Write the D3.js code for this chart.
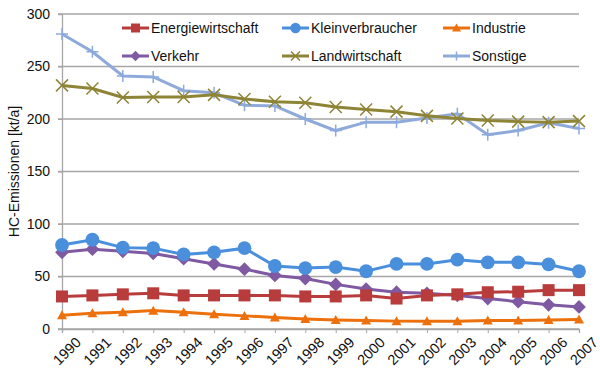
<!DOCTYPE html>
<html>
<head>
<meta charset="utf-8">
<script src="https://cdn.jsdelivr.net/npm/d3@7"></script>
<style>
  body { margin: 0; background: #fff; }
  svg { font-family: "Liberation Sans", Arial, sans-serif; }
</style>
</head>
<body>
<div id="chart"></div>
<script>
// years on the x axis
var years = [1990, 1991, 1992, 1993, 1994, 1995, 1996, 1997, 1998, 1999,
             2000, 2001, 2002, 2003, 2004, 2005, 2006, 2007];

// HC emissions, kt/a
var energiewirtschaft = [31, 32, 33, 34, 32, 32, 32, 32, 31, 31, 32, 29, 32, 33, 35, 35.5, 37, 37];
var kleinverbraucher  = [80, 85, 77.5, 77, 71, 73, 77, 60, 58, 59, 55, 62, 62, 66, 63.5, 63.5, 61.5, 55];
var industrie         = [13, 15, 16, 17.5, 16, 14, 12.5, 11, 9.5, 8.5, 8, 7.5, 7.5, 7.5, 8, 8, 8.5, 9];
var verkehr           = [73, 76, 74, 72, 67, 62, 57, 51, 48, 42.5, 38, 35, 34, 32, 29, 26, 23, 21];
var landwirtschaft    = [232, 229, 220.5, 221, 221, 223, 219, 216.5, 215.5, 211.5, 209, 207, 203, 200.5, 198.5, 197.5, 197, 198];
var sonstige          = [281, 264, 241, 240, 227, 225, 213, 212.5, 200, 189, 197, 197, 201, 205, 185, 189, 196.5, 191];

var yTicks = [0, 50, 100, 150, 200, 250, 300];

var series = [
  { name: "Energiewirtschaft", values: energiewirtschaft, color: "#b83c3c", marker: "square" },
  { name: "Kleinverbraucher",  values: kleinverbraucher,  color: "#4a8fdc", marker: "circle" },
  { name: "Industrie",         values: industrie,         color: "#ec700c", marker: "triangle" },
  { name: "Verkehr",           values: verkehr,           color: "#7f5aa2", marker: "diamond" },
  { name: "Landwirtschaft",    values: landwirtschaft,    color: "#8e8436", marker: "x" },
  { name: "Sonstige",          values: sonstige,          color: "#8eaadb", marker: "plus" }
];

var width = 600, height = 383;
var margin = { left: 62, right: 21, top: 14, bottom: 54 };

var svg = d3.select("#chart").append("svg")
  .attr("width", width)
  .attr("height", height);

var x = d3.scalePoint()
  .domain(years)
  .range([margin.left, width - margin.right]);

var y = d3.scaleLinear()
  .domain([0, 300])
  .range([height - margin.bottom, margin.top]);

// gridlines
svg.append("g")
  .selectAll("line")
  .data(yTicks)
  .enter()
  .append("line")
  .attr("x1", margin.left - 4)
  .attr("x2", width - margin.right)
  .attr("y1", function(d) { return y(d); })
  .attr("y2", function(d) { return y(d); })
  .attr("stroke", "#a6a6a6")
  .attr("stroke-width", 1.3);

// y axis
var yAxis = svg.append("g")
  .attr("transform", "translate(" + margin.left + ",0)")
  .call(d3.axisLeft(y).tickValues(yTicks).tickSize(4).tickPadding(8));
yAxis.select(".domain").attr("stroke", "#a6a6a6").attr("stroke-width", 1.3);
yAxis.selectAll(".tick line").attr("stroke", "#a6a6a6");
yAxis.selectAll("text").attr("font-size", 14).attr("fill", "#111")
  .attr("font-family", "Liberation Sans, Arial, sans-serif");

// x axis
var xAxis = svg.append("g")
  .attr("transform", "translate(0," + y(0) + ")")
  .call(d3.axisBottom(x).tickSize(4).tickPadding(6));
xAxis.select(".domain").attr("stroke", "#a6a6a6").attr("stroke-width", 1.3);
xAxis.selectAll(".tick line").attr("stroke", "#a6a6a6");
xAxis.selectAll("text")
  .attr("font-size", 14.5)
  .attr("fill", "#111")
  .attr("font-family", "Liberation Sans, Arial, sans-serif")
  .attr("text-anchor", "end")
  .attr("dx", "0.25em")
  .attr("dy", "0.95em")
  .attr("transform", "rotate(-45)");

// y axis title
svg.append("text")
  .attr("transform", "translate(19," + y(150) + ") rotate(-90)")
  .attr("text-anchor", "middle")
  .attr("font-size", 14)
  .attr("fill", "#111")
  .text("HC-Emissionen [kt/a]");

function drawMarker(g, type, color, s) {
  if (type === "square") {
    g.append("rect").attr("x", -s).attr("y", -s).attr("width", 2 * s).attr("height", 2 * s)
      .attr("fill", color);
  } else if (type === "circle") {
    g.append("circle").attr("r", s * 1.15).attr("fill", color);
  } else if (type === "triangle") {
    g.append("path").attr("d", "M0," + (-s) + "L" + s + "," + (s * 0.8) + "L" + (-s) + "," + (s * 0.8) + "Z")
      .attr("fill", color);
  } else if (type === "diamond") {
    g.append("path").attr("d", "M0," + (-s * 1.15) + "L" + (s * 1.15) + ",0L0," + (s * 1.15) + "L" + (-s * 1.15) + ",0Z")
      .attr("fill", color);
  } else if (type === "x") {
    g.append("path").attr("d", "M" + (-s) + "," + (-s) + "L" + s + "," + s + "M" + s + "," + (-s) + "L" + (-s) + "," + s)
      .attr("stroke", color).attr("stroke-width", 1.5).attr("fill", "none");
  } else if (type === "plus") {
    g.append("path").attr("d", "M" + (-s) + ",0L" + s + ",0M0," + (-s) + "L0," + s)
      .attr("stroke", color).attr("stroke-width", 1.5).attr("fill", "none");
  }
}

var line = d3.line()
  .x(function(d, i) { return x(years[i]); })
  .y(function(d) { return y(d); });

// draw series back to front so the low ones sit on top
var order = [5, 4, 3, 1, 0, 2];
order.forEach(function(k) {
  var s = series[k];
  var g = svg.append("g");
  g.append("path")
    .attr("d", line(s.values))
    .attr("fill", "none")
    .attr("stroke", s.color)
    .attr("stroke-width", 3);
  s.values.forEach(function(v, i) {
    var m = g.append("g").attr("transform", "translate(" + x(years[i]) + "," + y(v) + ")");
    drawMarker(m, s.marker, s.color, s.marker === "triangle" ? 5 : 6);
  });
});

// legend
var legX = [122, 282, 443];
var legY = [28, 56];
series.forEach(function(s, i) {
  var lx = legX[i % 3], ly = legY[Math.floor(i / 3)];
  var g = svg.append("g").attr("transform", "translate(" + lx + "," + ly + ")");
  g.append("line").attr("x1", 0).attr("x2", 27).attr("y1", 0).attr("y2", 0)
    .attr("stroke", s.color).attr("stroke-width", 3);
  var m = g.append("g").attr("transform", "translate(13.5,0)");
  drawMarker(m, s.marker, s.color, 4.5);
  g.append("text")
    .attr("x", 29)
    .attr("y", 0)
    .attr("dy", "0.35em")
    .attr("font-size", 14)
    .attr("fill", "#111")
    .text(s.name);
});
</script>
</body>
</html>
